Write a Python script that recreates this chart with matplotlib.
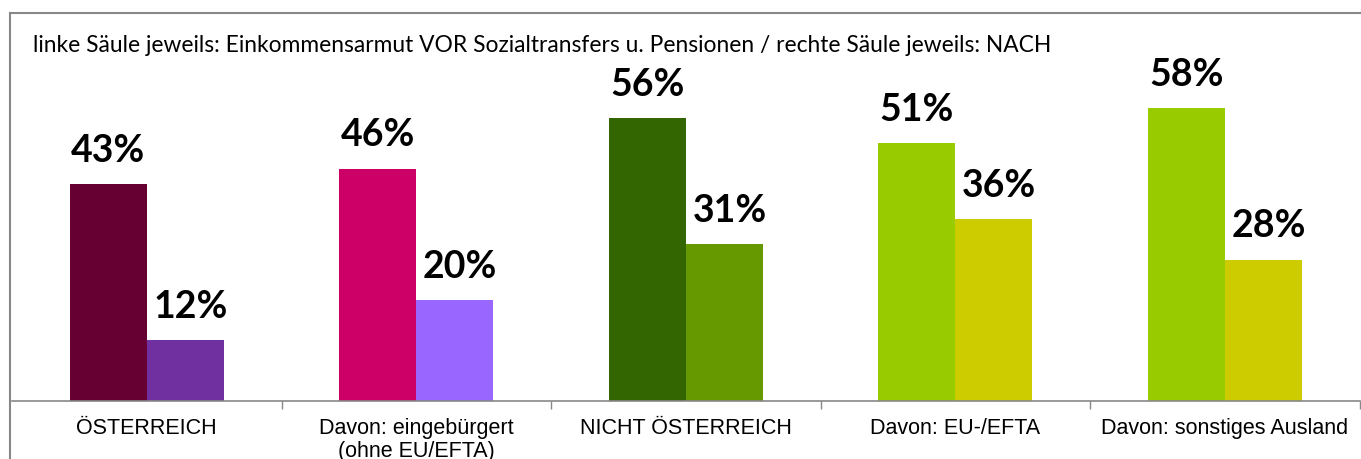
import numpy as np
import matplotlib.pyplot as plt
from matplotlib.patches import Rectangle

# Chart data
categories = ["ÖSTERREICH", "Davon: eingebürgert\n(ohne EU/EFTA)", "NICHT ÖSTERREICH",
              "Davon: EU-/EFTA", "Davon: sonstiges Ausland"]
vor = [43, 46, 56, 51, 58]    # before social transfers
nach = [12, 20, 31, 36, 28]   # after social transfers
colors_vor = ["#660033", "#CC0066", "#336600", "#99CC00", "#99CC00"]
colors_nach = ["#7030A0", "#9966FF", "#669900", "#CCCC00", "#CCCC00"]
title = "linke Säule jeweils: Einkommensarmut VOR Sozialtransfers u. Pensionen / rechte Säule jeweils: NACH"

W, H = 1361, 459
fig = plt.figure(figsize=(W / 100, H / 100), dpi=100)

# plot area: category width ~269.5 px, starts at 12 px, runs off right edge
cw = 269.5
ax = fig.add_axes([12 / W, (H - 401) / H, 5 * cw / W, 388 / H])
x = np.arange(len(categories))
bw = 77 / cw
ax.bar(x - bw / 2, vor, width=bw, color=colors_vor)
ax.bar(x + bw / 2, nach, width=bw, color=colors_nach)

for xi, v in zip(x - bw / 2, vor):
    ax.text(xi, v + 4.4, f"{v}%", ha="center", va="baseline", fontsize=27,
            fontweight="bold", family="Lato")
for xi, v in zip(x + bw / 2, nach):
    ax.text(xi + 0.02, v + 4.4, f"{v}%", ha="center", va="baseline", fontsize=27,
            fontweight="bold", family="Lato")

ax.set_xlim(-0.5, len(categories) - 0.5)
ax.set_ylim(0, 388 / 5.05)
ax.set_yticks([])
ax.set_xticks(x)
ax.set_xticklabels(categories, fontsize=15.5, family="Liberation Sans", linespacing=1.12)
ax.tick_params(axis="x", length=0, pad=12)
ax.set_xticks(np.arange(len(categories)) + 0.5, minor=True)
ax.tick_params(axis="x", which="minor", length=6, color="#888888", width=1)
for s in ["left", "right", "top"]:
    ax.spines[s].set_visible(False)
ax.spines["bottom"].set_color("#888888")
ax.spines["bottom"].set_linewidth(1.2)

# outer chart border
fig.add_artist(Rectangle((10 / W, -0.1), 1.2, (H - 13) / H + 0.1, transform=fig.transFigure,
                         fill=False, edgecolor="#888888", linewidth=1.5))

fig.text(33 / W, (H - 45) / H, title, fontsize=16.4, family="Lato", va="center")

fig.savefig("out.png", dpi=100)
